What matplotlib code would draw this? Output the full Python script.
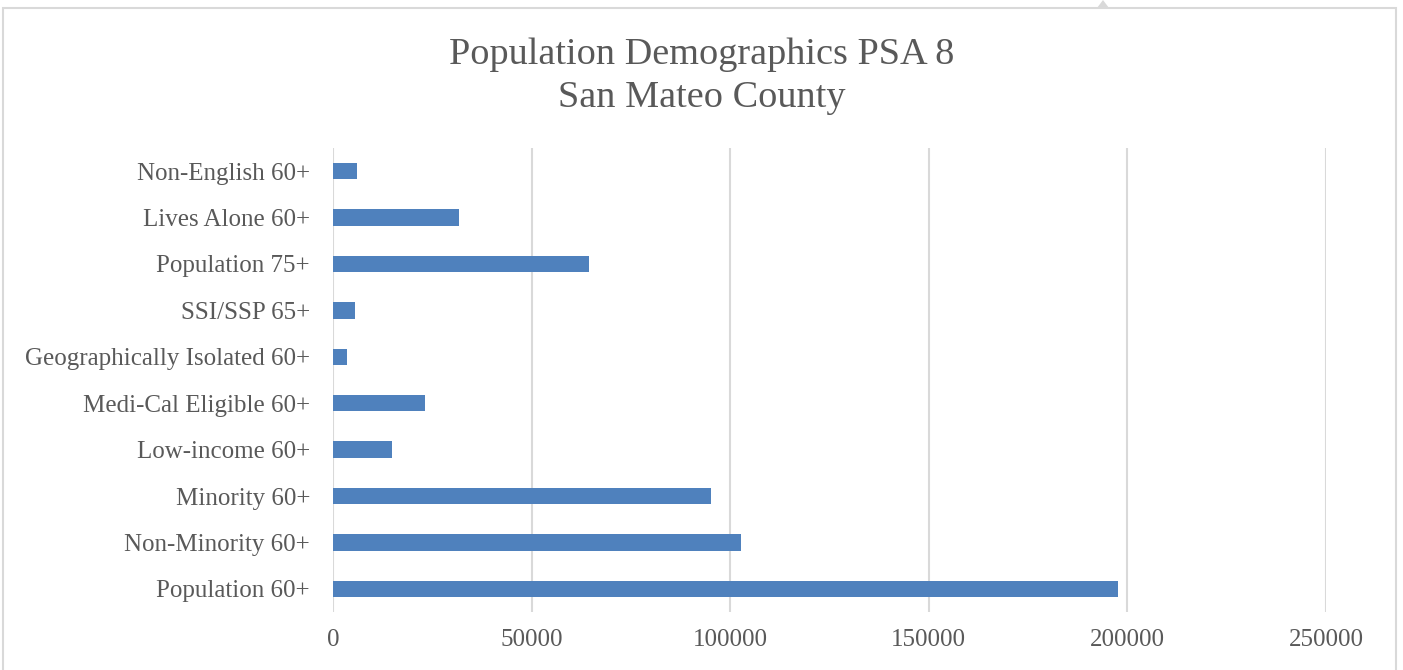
import numpy as np
import matplotlib.pyplot as plt
from matplotlib.patches import Rectangle, Polygon

categories = ['Population 60+', 'Non-Minority 60+', 'Minority 60+', 'Low-income 60+',
              'Medi-Cal Eligible 60+', 'Geographically Isolated 60+', 'SSI/SSP 65+',
              'Population 75+', 'Lives Alone 60+', 'Non-English 60+']
values = [197700, 102600, 95100, 14900, 23100, 3400, 5600, 64400, 31700, 6000]
xticks = [0, 50000, 100000, 150000, 200000, 250000]

plt.rcParams['font.family'] = ['Liberation Serif', 'DejaVu Serif']
textColor = '#595959'
barColor = '#4F81BD'
gridColor = '#D9D9D9'

fig = plt.figure(figsize=(14.03, 6.70), dpi=100)
ax = fig.add_axes([333/1403, 58/670, (1326-333)/1403, (612-148)/670])

index = np.arange(len(categories))
ax.barh(index, values, height=0.35, color=barColor)

ax.set_xlim(0, 250000)
ax.set_ylim(-0.5, len(categories) - 0.5)
ax.set_xticks(xticks)
ax.set_xticklabels([str(t) for t in xticks])
ax.set_yticks(index)
ax.set_yticklabels(categories)
ax.tick_params(axis='both', length=0, labelsize=18, colors=textColor)
ax.tick_params(axis='x', pad=12)
ax.tick_params(axis='y', pad=16.5)

ax.grid(axis='x', color=gridColor, linewidth=1.5)
ax.set_axisbelow(True)
for s in ax.spines.values():
    s.set_visible(False)

fig.text(0.5, 1 - 76/670, 'Population Demographics PSA 8\nSan Mateo County',
         ha='center', va='center', fontsize=27.5, color=textColor, linespacing=1.33)

# chart frame and small notch on top
fig.patches.append(Rectangle((3/1403, -0.01), 1393/1403, 1 - 8/670 + 0.01, transform=fig.transFigure,
                             fill=False, edgecolor=gridColor, linewidth=1.5))
fig.patches.append(Polygon([(1097/1403, 1 - 8/670), (1103/1403, 1.0), (1109/1403, 1 - 8/670)],
                           closed=True, transform=fig.transFigure, facecolor=gridColor, edgecolor='none'))

fig.savefig('out.png', dpi=100)
